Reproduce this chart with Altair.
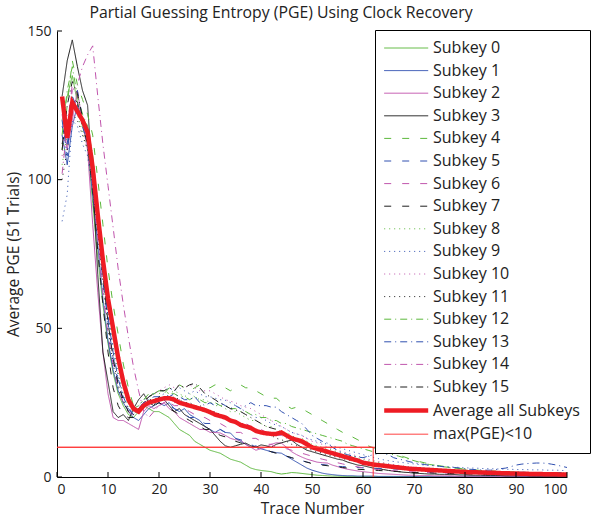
import altair as alt
import pandas as pd

trace = list(range(1, 101))

subkey_0 = [120, 128, 135, 126, 118, 112, 92, 74, 58, 45,
            35, 28, 24, 21, 20, 22, 24, 23, 22, 22,
            21, 20, 18, 16, 15, 14, 12, 11, 10, 9,
            8.5, 8, 7, 6, 5.5, 5, 4, 3, 2.5, 2.2,
            2, 1.8, 1.3, 1, 1.2, 1.5, 1.4, 1.2, 1, 0.8,
            0.6, 0.5, 0.4, 0.3, 0.3, 0.2, 0.2, 0.2, 0.1, 0.1,
            0.1, 0.1, 0.1, 0.1, 0.1, 0.1, 0.1, 0.1, 0.1, 0.1,
            0.05, 0.05, 0.05, 0.05, 0.05, 0.05, 0.05, 0.05, 0.05, 0.05,
            0, 0, 0, 0, 0, 0, 0, 0, 0, 0,
            0, 0, 0, 0, 0, 0, 0, 0, 0, 0]
subkey_1 = [115, 105, 118, 125, 120, 113, 95, 78, 60, 46,
            36, 29, 25, 22, 20, 19, 21, 23, 24, 25,
            24, 25, 23, 22, 23, 21, 20, 19, 17, 16,
            15, 16, 15, 14.8, 13, 12, 11, 10, 10.5, 9.5,
            9, 8.5, 8.2, 8, 7, 6, 5, 4, 3, 2.3,
            1.8, 1.3, 1, 0.8, 0.6, 0.5, 0.4, 0.4, 0.3, 0.3,
            0.3, 0.3, 0.2, 0.2, 0.2, 0.2, 0.2, 0.2, 0.2, 0.2,
            0.1, 0.1, 0.1, 0.1, 0.1, 0.1, 0.1, 0.1, 0.1, 0.1,
            0.1, 0.1, 0.1, 0.1, 0.1, 0.1, 0.1, 0.1, 0.1, 0.1,
            0.1, 0.1, 0.1, 0.1, 0.1, 0.1, 0.1, 0.1, 0.1, 0.1]
subkey_2 = [122, 110, 120, 130, 119, 110, 85, 62, 42, 28,
            20, 19, 19, 18, 17, 16, 22, 24, 23, 24,
            25, 23, 22, 20, 19, 18, 17, 16, 16, 15,
            15, 14.8, 14, 13, 12.5, 12.4, 11, 10, 9, 9.5,
            10, 11, 11.5, 11.4, 10, 8.5, 7.5, 6.7, 6, 5.5,
            5, 4.8, 4.7, 4, 3.5, 3, 2.6, 2.3, 2, 1.8,
            1.6, 1.4, 1.2, 1.1, 1, 0.9, 0.8, 0.7, 0.6, 0.6,
            0.5, 0.5, 0.5, 0.4, 0.4, 0.4, 0.4, 0.3, 0.3, 0.3,
            0.3, 0.3, 0.3, 0.3, 0.3, 0.3, 0.2, 0.2, 0.2, 0.2,
            0.2, 0.2, 0.2, 0.2, 0.2, 0.2, 0.2, 0.2, 0.2, 0.2]
subkey_3 = [128, 140, 147, 138, 130, 125, 100, 68, 42, 32,
            22, 20, 21, 19, 23, 26, 28, 25, 24, 27,
            26, 24, 22, 23, 21, 20, 19, 18, 17, 16,
            14, 12, 10.5, 10, 10.5, 11, 11.4, 10.5, 10, 10.8,
            10.5, 10, 11, 11.5, 12, 12.4, 11, 10, 9, 8.5,
            8, 7.5, 7, 6.5, 6, 5.7, 5, 4.5, 4, 3.8,
            3.4, 3, 2.8, 2.5, 2.2, 2, 1.8, 1.6, 1.5, 1.3,
            1.2, 1.1, 1.0, 1.0, 0.9, 0.9, 0.8, 0.8, 0.7, 0.7,
            0.6, 0.6, 0.6, 0.5, 0.5, 0.5, 0.5, 0.4, 0.4, 0.4,
            0.4, 0.4, 0.3, 0.3, 0.3, 0.3, 0.3, 0.3, 0.3, 0.3]
subkey_4 = [110, 125, 140, 132, 127, 122, 115, 100, 85, 70,
            58, 48, 38, 30, 24, 22, 25, 27, 28, 29,
            28, 30, 29, 31, 30, 29, 30, 31, 30, 30,
            31, 31, 30, 29, 30, 31, 30, 30, 29, 28,
            27, 26.5, 26.5, 25, 24, 23, 23.5, 23, 22, 21,
            20, 19, 18, 17, 16, 15, 14.5, 13.4, 12.5, 11.5,
            10.5, 9.8, 9.5, 9, 8.8, 8.4, 7.5, 6.8, 6.2, 5.7,
            5.2, 4.8, 4.4, 4, 3.8, 3.5, 3.3, 3, 2.8, 2.6,
            2.5, 2.3, 2.2, 2, 2, 1.9, 1.8, 1.7, 1.6, 1.6,
            1.5, 1.5, 1.4, 1.4, 1.3, 1.3, 1.2, 1.2, 1.1, 1.1]
subkey_5 = [118, 112, 125, 130, 121, 116, 102, 84, 66, 52,
            40, 32, 26, 23, 21, 22, 24, 25, 26, 25,
            24, 24, 23, 22, 21, 20, 20, 19, 18, 18,
            17, 16, 15, 14, 13, 12.5, 12, 11, 10, 9.5,
            9, 8.5, 8, 7.5, 7, 6.5, 6, 5.5, 5, 4.7,
            4.4, 4.2, 4, 3.8, 3.6, 3.5, 3.4, 3.3, 3.2, 3.1,
            3, 2.9, 2.9, 2.8, 2.7, 2.7, 2.6, 2.6, 2.5, 2.5,
            2.4, 2.4, 2.3, 2.3, 2.2, 2.2, 2.1, 2.1, 2, 2,
            2, 1.9, 1.9, 1.8, 1.8, 1.8, 1.7, 1.7, 1.7, 1.6,
            1.6, 1.6, 1.6, 1.5, 1.5, 1.5, 1.5, 1.5, 1.5, 1.5]
subkey_6 = [125, 118, 132, 128, 120, 114, 98, 80, 62, 48,
            38, 30, 25, 22, 21, 23, 25, 26, 25, 26,
            26, 25, 24, 24, 23, 22, 21, 20, 20, 19,
            18, 18, 17, 16, 15, 15, 14, 13, 13, 12,
            11, 11, 10, 10, 9.5, 9, 8.5, 8, 7.5, 7,
            6.5, 6, 5.6, 5.2, 4.8, 4.4, 4, 3.7, 3.4, 3.1,
            2.9, 2.7, 2.5, 2.3, 2.2, 2.1, 2, 1.9, 1.8, 1.7,
            1.6, 1.5, 1.5, 1.4, 1.4, 1.3, 1.3, 1.2, 1.2, 1.1,
            1.1, 1.1, 1, 1, 1, 1, 0.9, 0.9, 0.9, 0.9,
            0.9, 0.8, 0.8, 0.8, 0.8, 0.8, 0.8, 0.8, 0.8, 0.8]
subkey_7 = [112, 120, 128, 126, 118, 112, 96, 76, 58, 42,
            30, 24, 21, 20, 20, 22, 24, 25, 24, 25,
            24, 23, 22, 21, 20, 19, 18, 17, 16, 16,
            15, 14, 13.5, 13, 12, 11.5, 11, 10.5, 10, 9.5,
            9, 8.5, 8, 7.5, 7, 6.5, 6, 5.5, 5, 4.5,
            4.2, 4, 3.8, 3.6, 3.4, 3.2, 3, 2.8, 2.6, 2.5,
            2.4, 2.3, 2.2, 2.1, 2, 1.9, 1.8, 1.7, 1.6, 1.5,
            1.5, 1.4, 1.4, 1.3, 1.3, 1.2, 1.2, 1.1, 1.1, 1,
            1, 1, 0.9, 0.9, 0.9, 0.8, 0.8, 0.8, 0.7, 0.7,
            0.7, 0.7, 0.6, 0.6, 0.6, 0.6, 0.5, 0.5, 0.5, 0.5]
subkey_8 = [105, 115, 128, 122, 116, 110, 100, 85, 70, 56,
            44, 35, 28, 24, 22, 24, 26, 27, 28, 28,
            29, 28, 29, 28, 27, 28, 27, 26, 26, 25,
            24, 24, 23, 22, 22, 21, 20, 19, 19, 18,
            17, 17, 16, 15, 15, 14, 13, 13, 12, 11,
            10.5, 10, 9.5, 9, 8.5, 8, 7.5, 7, 6.5, 6,
            5.5, 5.2, 4.9, 4.6, 4.3, 4, 3.8, 3.6, 3.4, 3.2,
            3, 2.9, 2.8, 2.7, 2.6, 2.5, 2.4, 2.3, 2.2, 2.1,
            2, 2, 1.9, 1.9, 1.8, 1.8, 1.7, 1.7, 1.6, 1.6,
            1.6, 1.5, 1.5, 1.5, 1.5, 1.5, 1.4, 1.4, 1.4, 1.4]
subkey_9 = [86, 95, 120, 118, 112, 108, 96, 82, 68, 55,
            43, 34, 27, 23, 22, 24, 26, 27, 28, 29,
            29, 30, 29, 30, 29, 28, 29, 28, 27, 27,
            26.5, 26, 25.8, 25, 24, 23, 22, 21, 20, 20,
            19, 18, 17.5, 17, 16, 15, 14.5, 14, 13, 12.5,
            12, 11.5, 11, 10.5, 10, 9.5, 9, 8.5, 8, 7.5,
            7, 6.6, 6.2, 5.8, 5.5, 5.2, 5, 4.8, 4.6, 4.4,
            4.2, 4, 3.9, 3.8, 3.6, 3.5, 3.4, 3.3, 3.2, 3.1,
            3, 3, 2.9, 2.8, 2.8, 2.7, 2.7, 2.6, 2.6, 2.5,
            2.5, 2.5, 2.4, 2.4, 2.4, 2.3, 2.3, 2.3, 2.2, 2.2]
subkey_10 = [108, 122, 118, 126, 121, 117, 105, 90, 75, 60,
             48, 38, 30, 25, 22, 23, 25, 27, 28, 29,
             30, 31, 30, 31, 30, 31, 30, 29, 29, 29,
             28, 27, 26, 25.5, 25, 24, 23.5, 23, 22, 21,
             20, 19, 18, 17, 16, 15, 14.5, 14, 13, 12,
             11.5, 11, 10, 9.5, 9, 8.5, 8, 7.5, 7, 6.5,
             6, 5.6, 5.2, 4.8, 4.5, 4.2, 3.9, 3.6, 3.4, 3.2,
             3, 2.8, 2.7, 2.5, 2.4, 2.3, 2.2, 2.1, 2, 1.9,
             1.8, 1.7, 1.6, 1.6, 1.5, 1.5, 1.4, 1.4, 1.3, 1.3,
             1.3, 1.2, 1.2, 1.2, 1.1, 1.1, 1.1, 1, 1, 1]
subkey_11 = [100, 110, 122, 120, 115, 110, 98, 82, 65, 50,
             38, 30, 25, 22, 21, 23, 25, 26, 26, 27,
             27, 26, 27, 26, 25, 25, 24, 24, 23, 22,
             22, 21, 20, 19.5, 19, 18, 17, 16.5, 16, 15,
             14.5, 14, 13, 12.5, 12, 11, 10.5, 10, 9.5, 9,
             8.5, 8, 7.5, 7, 6.6, 6.2, 5.8, 5.4, 5, 4.7,
             4.4, 4.1, 3.8, 3.6, 3.4, 3.2, 3, 2.8, 2.7, 2.6,
             2.5, 2.4, 2.3, 2.2, 2.1, 2, 1.9, 1.8, 1.8, 1.7,
             1.6, 1.6, 1.5, 1.5, 1.4, 1.4, 1.3, 1.3, 1.3, 1.2,
             1.2, 1.2, 1.1, 1.1, 1.1, 1.1, 1, 1, 1, 1]
subkey_12 = [115, 130, 138, 128, 122, 118, 108, 92, 76, 62,
             50, 40, 32, 26, 23, 24, 26, 28, 28, 29,
             29, 28, 28, 27, 27, 26, 27, 26, 25, 25,
             25, 24, 24, 23, 23, 22, 22, 21, 21, 20,
             20, 19, 19, 18, 18, 17, 16.5, 16, 15.5, 15,
             14.5, 14, 13.5, 13, 12.5, 12, 11, 10.5, 10, 9.5,
             9, 8.5, 8.2, 8, 7.8, 7.5, 7, 6.5, 6, 5.5,
             5, 4.6, 4.2, 4, 3.7, 3.4, 3.2, 3, 2.8, 2.6,
             2.4, 2.3, 2.2, 2.1, 2, 1.9, 1.8, 1.8, 1.7, 1.6,
             1.6, 1.5, 1.5, 1.4, 1.4, 1.3, 1.3, 1.2, 1.2, 1.1]
subkey_13 = [120, 108, 128, 124, 118, 112, 100, 84, 68, 54,
             42, 33, 27, 23, 21, 23, 25, 26, 27, 27,
             28, 27, 28, 27, 26, 26, 27, 25, 24, 25,
             24, 25, 24, 23, 24, 23, 24, 25, 24, 24,
             24, 23.5, 23.5, 22, 21, 20, 19, 18, 16, 14,
             13, 12, 11.4, 10, 9, 8, 7.5, 7, 6.7, 6.5,
             7, 7.5, 8, 8, 7.5, 6.5, 6, 5.7, 5.2, 4.8,
             4.5, 4.2, 4, 3.8, 3.6, 3.4, 3.3, 3.2, 3, 2.8,
             2.6, 2.5, 2.4, 2.3, 2.3, 2.5, 2.8, 3, 3.5, 4,
             4.3, 4.5, 4.6, 4.7, 4.7, 4.6, 4.3, 4, 3.6, 3.2]
subkey_14 = [102, 118, 130, 132, 138, 142, 145, 128, 112, 98,
             84, 70, 58, 47, 37, 29, 22, 20, 22, 24,
             25, 26, 25, 26, 25, 24, 24, 23, 22, 22,
             21, 21, 20, 19, 19, 18, 18, 17, 16, 16,
             15, 15, 14, 14, 13, 12.5, 12, 11.5, 11, 10.5,
             10, 9.5, 9, 8.5, 8, 7.5, 7, 6.5, 6, 5.5,
             5, 4.7, 4.4, 4.1, 3.8, 3.6, 3.4, 3.2, 3, 2.8,
             2.6, 2.5, 2.4, 2.3, 2.2, 2.1, 2, 1.9, 1.8, 1.7,
             1.6, 1.5, 1.5, 1.4, 1.4, 1.3, 1.3, 1.2, 1.2, 1.1,
             1.1, 1, 1, 1, 0.9, 0.9, 0.9, 0.9, 0.8, 0.8]
subkey_15 = [110, 125, 133, 129, 121, 117, 104, 86, 68, 52,
             40, 31, 26, 22, 21, 23, 25, 27, 28, 29,
             29, 30, 29, 31, 30, 31, 31.5, 30, 28, 27,
             26, 24.8, 24, 23, 22.5, 22, 21, 20, 19, 18,
             17, 16.5, 16, 15, 14, 13, 12.5, 12, 11, 10,
             9.5, 9, 8.5, 8, 7.5, 7, 6.5, 6, 5.5, 5,
             4.6, 4.3, 4, 3.7, 3.4, 3.2, 3, 2.8, 2.6, 2.4,
             2.3, 2.2, 2.1, 2, 1.9, 1.8, 1.7, 1.6, 1.5, 1.4,
             1.4, 1.3, 1.3, 1.2, 1.2, 1.1, 1.1, 1, 1, 1,
             0.9, 0.9, 0.9, 0.8, 0.8, 0.8, 0.7, 0.7, 0.6, 0.6]
average_all = [128, 114, 126, 123, 120, 116, 104, 88, 73, 60,
               50, 40, 32, 26, 23, 22, 24, 25, 25.5, 26,
               26.5, 26.5, 26, 25, 24.5, 24, 23.5, 23, 22.5, 21.8,
               21, 20.5, 20, 19, 18.5, 17.5, 17, 16.5, 15.5, 15,
               14.7, 14.5, 14.5, 15, 14, 13, 12.5, 12, 11, 10,
               9.5, 9, 8.5, 8, 7.5, 7, 6.5, 6, 5.5, 4.8,
               4.5, 4.2, 4, 3.8, 3.6, 3.4, 3.2, 3, 2.8, 2.7,
               2.6, 2.5, 2.4, 2.3, 2.2, 2.1, 2, 1.9, 1.8, 1.7,
               1.6, 1.6, 1.5, 1.5, 1.4, 1.4, 1.3, 1.3, 1.2, 1.2,
               1.1, 1.1, 1.0, 1.0, 1.0, 0.9, 0.9, 0.9, 0.8, 0.8]

threshold_x = [62, 62, 0, 100]
threshold_y = [0, 10, 10, 10]

x_ticks = [0, 10, 20, 30, 40, 50, 60, 70, 80, 90, 100]
y_ticks = [0, 50, 100, 150]

subkeys = [subkey_0, subkey_1, subkey_2, subkey_3, subkey_4, subkey_5, subkey_6, subkey_7,
           subkey_8, subkey_9, subkey_10, subkey_11, subkey_12, subkey_13, subkey_14, subkey_15]
names = [f"Subkey {i}" for i in range(16)] + ["Average all Subkeys", "max(PGE)<10"]

GREEN, BLUE, MAG, BLK = "#5cb83c", "#3050b0", "#c055ad", "#1e1e1e"
colors = [GREEN, BLUE, MAG, BLK] * 4 + ["#ee1c24", "#ff3030"]
dashes = [[1, 0]] * 4 + [[7, 11]] * 4 + [[1, 4]] * 4 + [[7, 4, 1, 4]] * 4 + [[1, 0], [1, 0]]
widths = [1] * 16 + [4.5, 1]

rows = []
for name, vals in zip(names[:16], subkeys):
    for i, (xv, yv) in enumerate(zip(trace, vals)):
        rows.append({"x": xv, "y": yv, "series": name, "ord": i})
for i, (xv, yv) in enumerate(zip(trace, average_all)):
    rows.append({"x": xv, "y": yv, "series": names[16], "ord": i})
for i, (xv, yv) in enumerate(zip(threshold_x, threshold_y)):
    rows.append({"x": xv, "y": yv, "series": names[17], "ord": i})
df = pd.DataFrame(rows)

W, H = 510, 446
FONT = "Open Sans"
xscale = alt.Scale(domain=[0, 100], nice=False)
yscale = alt.Scale(domain=[0, 150], nice=False)
x_axis = alt.Axis(title="Trace Number", values=x_ticks, ticks=False,
                  labelPadding=5, titlePadding=5, grid=False)
y_axis = alt.Axis(title="Average PGE (51 Trials)", values=y_ticks, ticks=False,
                  labelPadding=6, titlePadding=5, grid=False)

leg = alt.Legend(
    title=None, orient="none", legendX=318, legendY=-1,
    symbolType="M-1.6,0H6.4", symbolSize=121, labelFont=FONT, labelFontSize=16,
    labelColor="#222", strokeColor="black", fillColor="white", padding=10,
    rowPadding=6.6, labelOffset=32, labelLimit=300,
)

lines = alt.Chart(df).mark_line(clip=True).encode(
    x=alt.X("x:Q", scale=xscale, axis=x_axis, title="Trace Number"),
    y=alt.Y("y:Q", scale=yscale, axis=y_axis, title="Average PGE (51 Trials)"),
    color=alt.Color("series:N", scale=alt.Scale(domain=names, range=colors), legend=leg),
    strokeDash=alt.StrokeDash("series:N", scale=alt.Scale(domain=names, range=dashes), legend=leg),
    strokeWidth=alt.StrokeWidth("series:N", scale=alt.Scale(type="ordinal", domain=names, range=widths),
                                legend=leg),
    order="ord:Q",
)

xtick_df = pd.DataFrame({"v": x_ticks})
ytick_df = pd.DataFrame({"v": y_ticks})
xtick_layer = alt.Chart(xtick_df).mark_rule(color="black", strokeWidth=1).encode(
    x=alt.X("v:Q", scale=xscale, axis=x_axis, title="Trace Number"),
    y=alt.value(H - 5), y2=alt.value(H),
)
ytick_layer = alt.Chart(ytick_df).mark_rule(color="black", strokeWidth=1).encode(
    y=alt.Y("v:Q", scale=yscale, axis=y_axis, title="Average PGE (51 Trials)"),
    x=alt.value(0), x2=alt.value(5),
)

chart = alt.layer(lines, xtick_layer, ytick_layer).properties(
    width=W, height=H,
    title=alt.TitleParams("Partial Guessing Entropy (PGE) Using Clock Recovery",
                          font=FONT, fontSize=15.8, fontWeight="normal", color="#222",
                          frame="group", offset=0, dy=-2, dx=-31),
    autosize=alt.AutoSizeParams(type="none"),
    padding={"left": 57, "top": 31, "right": 26, "bottom": 44},
).configure_axis(
    labelFont=FONT, labelFontSize=14, labelColor="#222", titleFont=FONT, titleFontSize=15.5,
    titleFontWeight="normal", titleColor="#222", domainColor="black", tickColor="black",
    domainWidth=1, tickWidth=1,
).configure_view(strokeOpacity=0)

chart.save("out.html", embed_options={"renderer": "svg", "actions": False})
